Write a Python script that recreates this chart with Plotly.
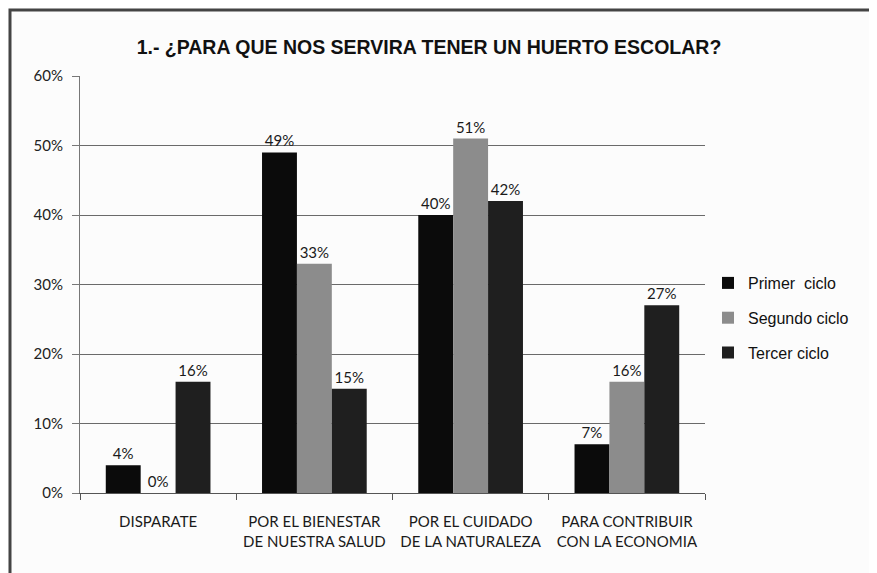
import plotly.graph_objects as go

categories = ["DISPARATE", "POR EL BIENESTAR<br>DE NUESTRA SALUD",
              "POR EL CUIDADO<br>DE LA NATURALEZA", "PARA CONTRIBUIR<br>CON LA ECONOMIA"]
series_names = ["Primer  ciclo", "Segundo ciclo", "Tercer ciclo"]
primer = [4, 49, 40, 7]
segundo = [0, 33, 51, 16]
tercer = [16, 15, 42, 27]
colors = ["#0b0b0b", "#8c8c8c", "#1f1f1f"]
ytick_vals = [0, 10, 20, 30, 40, 50, 60]
ytick_text = ["0%", "10%", "20%", "30%", "40%", "50%", "60%"]

fig = go.Figure()
for i, (name, vals, col) in enumerate(zip(series_names, [primer, segundo, tercer], colors)):
    fig.add_trace(go.Bar(
        x=categories, y=vals, name=name, legendgroup=f"g{i}",
        marker=dict(color=col, line=dict(width=0)),
        text=[f"{v}%" for v in vals], textposition="outside",
        textfont=dict(family="Lato, Liberation Sans", size=15, color="#1a1a1a"),
        cliponaxis=False,
    ))

# page body has an 8px offset in the browser
L, T = 72, 68
W, H = 625, 417
R = 877 - L - W
B = 573 - T - H

fig.update_layout(
    width=877, height=573,
    margin=dict(l=L, r=R, t=T, b=B),
    paper_bgcolor="#fcfcfc", plot_bgcolor="#fcfcfc",
    barmode="group", bargap=0.33, bargroupgap=0,
    title=dict(text="<b>1.- ¿PARA QUE NOS SERVIRA TENER UN HUERTO ESCOLAR?</b>",
               x=421 / 877, xanchor="center", y=1 - 39 / 573, yanchor="middle",
               font=dict(family="Liberation Sans Narrow, Arial Narrow, Liberation Sans", size=19.5, color="#111")),
    legend=dict(x=(700 - L) / W, y=(485 - 310) / H, xanchor="left", yanchor="middle",
                font=dict(family="Liberation Sans, Arial", size=16, color="#111"),
                bgcolor="rgba(0,0,0,0)", tracegroupgap=11, itemwidth=30),
    showlegend=True,
    xaxis=dict(showgrid=False, tickson="boundaries", ticks="outside", ticklen=6,
               tickcolor="#555", showline=True, linecolor="#555", linewidth=1,
               ticklabelstandoff=15,
               tickfont=dict(family="Lato, Liberation Sans", size=15, color="#1a1a1a")),
    yaxis=dict(range=[0, 60], tickvals=ytick_vals, ticktext=ytick_text,
               showgrid=True, gridcolor="#6a6a6a", gridwidth=1,
               showline=True, linecolor="#777", linewidth=1,
               ticks="outside", ticklen=7, tickcolor="#777", zeroline=False,
               ticklabelstandoff=6,
               tickfont=dict(family="Lato, Liberation Sans", size=15, color="#222")),
    shapes=[dict(type="rect", xref="paper", yref="paper",
                 x0=(2 - L) / W, x1=1.4, y0=-0.4, y1=1 + (T - 2) / H,
                 line=dict(color="#444", width=3), layer="below")],
)

fig.write_html("out.html")
